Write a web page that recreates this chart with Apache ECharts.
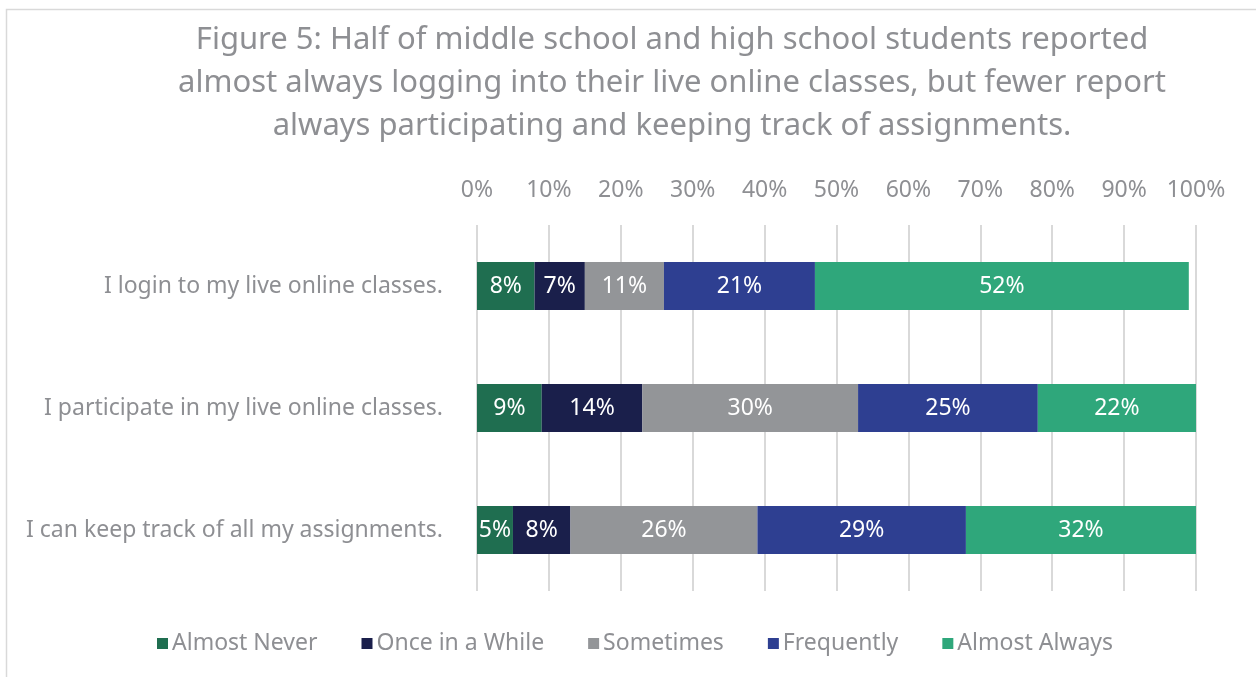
<!DOCTYPE html>
<html>
<head>
<meta charset="utf-8">
<script src="https://cdn.jsdelivr.net/npm/echarts@6/dist/echarts.min.js"></script>
<style>
  html, body { margin: 0; padding: 0; background: #ffffff; }
  #chart { width: 1256px; height: 677px; }
</style>
</head>
<body>
<div id="chart"></div>
<script>
// Survey statements (top to bottom)
const statements = [
  'I login to my live online classes.',
  'I participate in my live online classes.',
  'I can keep track of all my assignments.'
];

// Response shares (%) per statement
const almostNever    = [8, 9, 5];
const onceInAWhile   = [7, 14, 8];
const sometimes      = [11, 30, 26];
const frequently     = [21, 25, 29];
const almostAlways   = [52, 22, 32];

const responseNames = ['Almost Never', 'Once in a While', 'Sometimes', 'Frequently', 'Almost Always'];
const responseValues = [almostNever, onceInAWhile, sometimes, frequently, almostAlways];
const responseColors = ['#1f6e50', '#1a1f4b', '#939598', '#2e3f91', '#2fa77b'];

const FONT = '"Noto Sans"';
const GREY = '#8e8f93';

const series = responseNames.map((name, i) => ({
  name: name,
  type: 'bar',
  stack: 'total',
  barWidth: 48,
  data: responseValues[i],
  itemStyle: { color: responseColors[i] },
  label: {
    show: true,
    position: 'inside',
    formatter: '{c}%',
    color: '#ffffff',
    fontFamily: FONT,
    fontSize: 23
  },
  emphasis: { disabled: true }
}));

const chart = echarts.init(document.getElementById('chart'), null, { renderer: 'canvas' });
chart.setOption({
  backgroundColor: '#ffffff',
  animation: false,
  title: {
    text: 'Figure 5: Half of middle school and high school students reported\nalmost always logging into their live online classes, but fewer report\nalways participating and keeping track of assignments.',
    left: 667,
    textAlign: 'center',
    top: 14,
    textStyle: {
      fontFamily: FONT,
      fontSize: 31,
      fontWeight: 'normal',
      color: GREY,
      lineHeight: 43
    }
  },
  graphic: [{
    type: 'rect',
    shape: { x: 6.5, y: 9.5, width: 1260, height: 680 },
    style: { fill: 'none', stroke: '#d9d9d9', lineWidth: 1.5 },
    silent: true
  }],
  legend: {
    bottom: 17,
    left: 152,
    icon: 'rect',
    itemWidth: 11,
    itemHeight: 11,
    itemGap: 44,
    textStyle: { fontFamily: FONT, fontSize: 23, color: GREY, padding: [0, 0, 0, -1] },
    data: responseNames
  },
  grid: { left: 477, right: 60, top: 225, bottom: 86, containLabel: false },
  xAxis: {
    type: 'value',
    position: 'top',
    min: 0,
    max: 100,
    interval: 10,
    axisLine: { show: false },
    axisTick: { show: false },
    axisLabel: {
      formatter: '{value}%',
      fontFamily: FONT,
      fontSize: 23,
      color: GREY,
      margin: 23
    },
    splitLine: { show: true, lineStyle: { color: '#d9d9d9', width: 2 } }
  },
  yAxis: {
    type: 'category',
    inverse: true,
    data: statements,
    axisLine: { show: false },
    axisTick: { show: false },
    axisLabel: {
      fontFamily: FONT,
      fontSize: 23,
      color: GREY,
      margin: 34
    }
  },
  series: series
});
</script>
</body>
</html>
